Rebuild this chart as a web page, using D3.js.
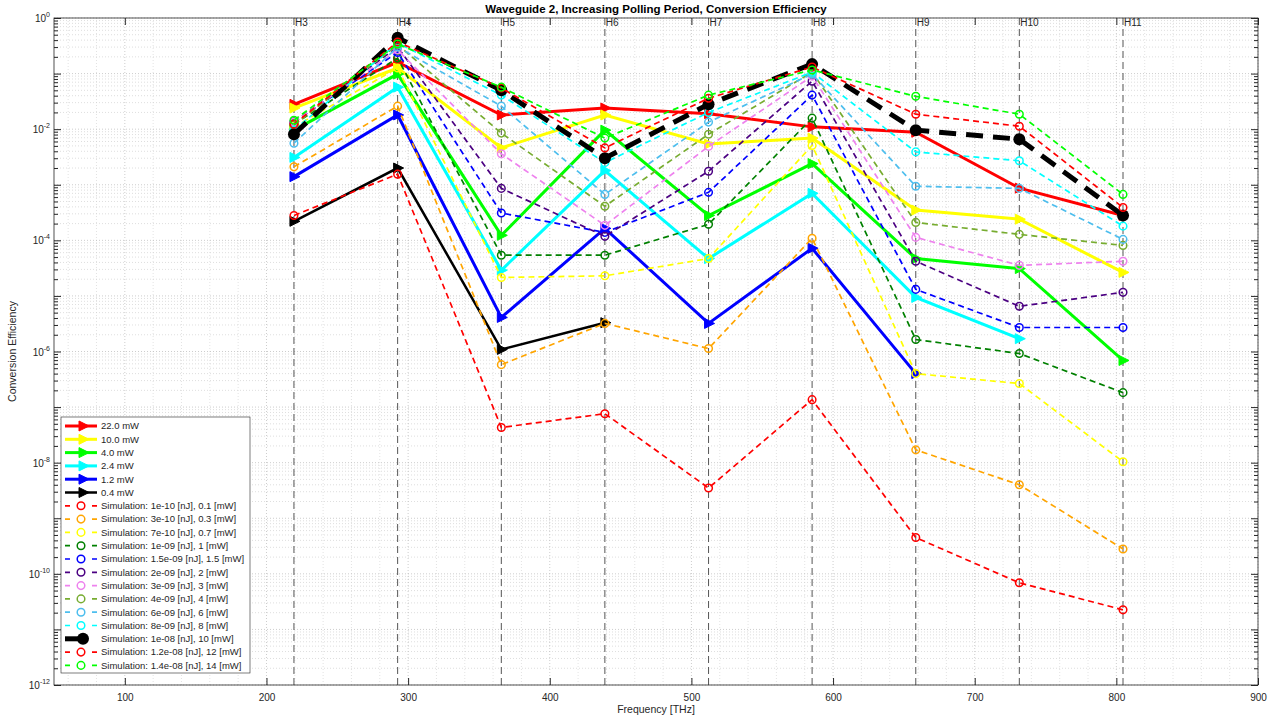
<!DOCTYPE html>
<html>
<head>
<meta charset="utf-8">
<script src="https://cdn.jsdelivr.net/npm/d3@7"></script>
<style>
    body { margin: 0; background: #fff; }
    svg text { font-family: "Liberation Sans", Arial, Helvetica, sans-serif; fill: #262626; }
</style>
</head>
<body>
<div id="chart"></div>
<script>
// harmonic labels and their frequencies [THz]
var harmonics = ['H3', 'H4', 'H5', 'H6', 'H7', 'H8', 'H9', 'H10', 'H11'];
var freqs = [219.4, 292.6, 365.8, 438.9, 512.1, 585.2, 658.4, 731.5, 804.7];

// axis ticks
var xTicks = [100, 200, 300, 400, 500, 600, 700, 800, 900];
var yTickExps = [0, -2, -4, -6, -8, -10, -12];

// measured conversion efficiency (solid lines)
var meas22 = [0.028, 0.16, 0.018, 0.024, 0.019, 0.011, 0.0088, 8.7e-4, 2.8e-4];
var meas10 = [0.024, 0.126, 0.0046, 0.018, 0.0054, 0.0069, 3.5e-4, 2.4e-4, 2.65e-5];
var meas4 = [0.0096, 0.098, 1.23e-4, 0.0096, 2.8e-4, 0.0024, 4.7e-5, 3.1e-5, 6.9e-7];
var meas2_4 = [0.0031, 0.057, 2.9e-5, 0.0018, 4.7e-5, 7.0e-4, 9.4e-6, 1.7e-6, null];
var meas1_2 = [0.0014, 0.018, 4.1e-6, 1.64e-4, 3.2e-6, 7.2e-5, 4.0e-7, null, null];
var meas0_4 = [2.2e-4, 0.002, 1.09e-6, 3.3e-6, null, null, null, null, null];

// simulations (dashed lines)
var sim1e10 = [2.8e-4, 0.00155, 4.3e-8, 7.6e-8, 3.5e-9, 1.36e-7, 4.5e-10, 6.9e-11, 2.25e-11];
var sim3e10 = [0.0021, 0.026, 5.8e-7, 3.2e-6, 1.13e-6, 1.09e-4, 1.7e-8, 4.0e-9, 2.8e-10];
var sim7e10 = [0.011, 0.126, 2.15e-5, 2.3e-5, 4.7e-5, 0.0051, 4.0e-7, 2.65e-7, 1.04e-8];
var sim1e9 = [0.0123, 0.19, 5.4e-5, 5.4e-5, 1.94e-4, 0.0158, 1.64e-6, 9.2e-7, 1.82e-7];
var sim1_5e9 = [0.0134, 0.24, 3.1e-4, 1.39e-4, 7.3e-4, 0.041, 1.31e-5, 2.7e-6, 2.7e-6];
var sim2e9 = [0.0134, 0.30, 8.6e-4, 1.18e-4, 0.00175, 0.073, 4.2e-5, 6.5e-6, 1.16e-5];
var sim3e9 = [0.0134, 0.265, 0.0036, 1.86e-4, 0.0049, 0.09, 1.13e-4, 3.55e-5, 4.2e-5];
var sim4e9 = [0.0118, 0.33, 0.0085, 4.1e-4, 0.0081, 0.106, 2.1e-4, 1.28e-4, 8.1e-5];
var sim6e9 = [0.0056, 0.30, 0.026, 6.7e-4, 0.0134, 0.098, 9.4e-4, 8.6e-4, 1.04e-4];
var sim8e9 = [0.0096, 0.355, 0.041, 0.0025, 0.020, 0.106, 0.0039, 0.0027, 1.8e-4];
var sim1e8 = [0.0081, 0.44, 0.050, 0.0030, 0.028, 0.148, 0.0096, 0.0066, 2.8e-4];
var sim1_2e8 = [0.0123, 0.37, 0.055, 0.0046, 0.036, 0.131, 0.0186, 0.0113, 3.9e-4];
var sim1_4e8 = [0.0145, 0.34, 0.057, 0.0069, 0.041, 0.116, 0.039, 0.0186, 6.7e-4];

// plotted in legend order
var series = [
    {name: '22.0 mW', data: meas22, color: '#ff0000', kind: 'meas', width: 3},
    {name: '10.0 mW', data: meas10, color: '#ffff00', kind: 'meas', width: 3},
    {name: '4.0 mW', data: meas4, color: '#00ff00', kind: 'meas', width: 3},
    {name: '2.4 mW', data: meas2_4, color: '#00ffff', kind: 'meas', width: 3},
    {name: '1.2 mW', data: meas1_2, color: '#0000ff', kind: 'meas', width: 3},
    {name: '0.4 mW', data: meas0_4, color: '#000000', kind: 'meas', width: 2.5},
    {name: 'Simulation: 1e-10 [nJ], 0.1 [mW]', data: sim1e10, color: '#ff0000', kind: 'sim'},
    {name: 'Simulation: 3e-10 [nJ], 0.3 [mW]', data: sim3e10, color: '#ffa500', kind: 'sim'},
    {name: 'Simulation: 7e-10 [nJ], 0.7 [mW]', data: sim7e10, color: '#ffff00', kind: 'sim'},
    {name: 'Simulation: 1e-09 [nJ], 1 [mW]', data: sim1e9, color: '#008000', kind: 'sim'},
    {name: 'Simulation: 1.5e-09 [nJ], 1.5 [mW]', data: sim1_5e9, color: '#0000ff', kind: 'sim'},
    {name: 'Simulation: 2e-09 [nJ], 2 [mW]', data: sim2e9, color: '#4b0082', kind: 'sim'},
    {name: 'Simulation: 3e-09 [nJ], 3 [mW]', data: sim3e9, color: '#ee82ee', kind: 'sim'},
    {name: 'Simulation: 4e-09 [nJ], 4 [mW]', data: sim4e9, color: '#77ac30', kind: 'sim'},
    {name: 'Simulation: 6e-09 [nJ], 6 [mW]', data: sim6e9, color: '#4dbeee', kind: 'sim'},
    {name: 'Simulation: 8e-09 [nJ], 8 [mW]', data: sim8e9, color: '#00ffff', kind: 'sim'},
    {name: 'Simulation: 1e-08 [nJ], 10 [mW]', data: sim1e8, color: '#000000', kind: 'big'},
    {name: 'Simulation: 1.2e-08 [nJ], 12 [mW]', data: sim1_2e8, color: '#ff0000', kind: 'sim'},
    {name: 'Simulation: 1.4e-08 [nJ], 14 [mW]', data: sim1_4e8, color: '#00ff00', kind: 'sim'}
];

var W = 1274, H = 719;
var margin = {top: 18, right: 16, bottom: 34, left: 54};

var svg = d3.select('#chart').append('svg')
    .attr('width', W)
    .attr('height', H);

var x = d3.scaleLinear().domain([50, 900]).range([margin.left, W - margin.right]);
var y = d3.scaleLog().domain([1e-12, 1]).range([H - margin.bottom, margin.top]);

var x0 = x.range()[0], x1 = x.range()[1], y0 = y.range()[1], y1 = y.range()[0];

// grid
var decades = d3.range(-12, 1);
var yMinor = [];
decades.slice(0, -1).forEach(function(k) {
    for (var m = 2; m <= 9; m++) yMinor.push(m * Math.pow(10, k));
});
var yMajor = decades.map(function(k) { return Math.pow(10, k); });
var xMinor = d3.range(60, 900, 20).filter(function(v) { return v % 100 !== 0; });

var grid = svg.append('g');
grid.selectAll('.ymin').data(yMinor).enter().append('line')
    .attr('x1', x0).attr('x2', x1)
    .attr('y1', function(d) { return y(d); }).attr('y2', function(d) { return y(d); })
    .attr('stroke', '#c8c8c8').attr('stroke-width', 0.6).attr('stroke-dasharray', '1,2');
grid.selectAll('.xmin').data(xMinor).enter().append('line')
    .attr('y1', y0).attr('y2', y1)
    .attr('x1', function(d) { return x(d); }).attr('x2', function(d) { return x(d); })
    .attr('stroke', '#d0d0d0').attr('stroke-width', 0.6).attr('stroke-dasharray', '1,2');
grid.selectAll('.ymaj').data(yMajor).enter().append('line')
    .attr('x1', x0).attr('x2', x1)
    .attr('y1', function(d) { return y(d); }).attr('y2', function(d) { return y(d); })
    .attr('stroke', '#b8b8b8').attr('stroke-width', 0.7).attr('stroke-dasharray', '1,2');
grid.selectAll('.xmaj').data(xTicks).enter().append('line')
    .attr('y1', y0).attr('y2', y1)
    .attr('x1', function(d) { return x(d); }).attr('x2', function(d) { return x(d); })
    .attr('stroke', '#b8b8b8').attr('stroke-width', 0.7).attr('stroke-dasharray', '1,2');

// harmonic markers
var hl = svg.append('g');
hl.selectAll('line').data(freqs).enter().append('line')
    .attr('x1', function(d) { return x(d); }).attr('x2', function(d) { return x(d); })
    .attr('y1', y0).attr('y2', y1)
    .attr('stroke', '#555').attr('stroke-width', 1).attr('stroke-dasharray', '7,4');
hl.selectAll('text').data(harmonics).enter().append('text')
    .attr('x', function(d, i) { return x(freqs[i]) + 1; })
    .attr('y', y0 + 8)
    .attr('font-size', 10)
    .text(function(d) { return d; });

// axes (ticks point inwards, like matlab)
function noDomain(g) { g.select('.domain').remove(); g.selectAll('line').attr('stroke', '#262626'); }

svg.append('g').attr('transform', 'translate(0,' + y1 + ')')
    .call(d3.axisBottom(x).tickValues(xTicks).tickSize(-7).tickPadding(9).tickFormat(d3.format('d')))
    .call(noDomain)
    .selectAll('text').attr('font-size', 10).attr('fill', '#262626');
svg.append('g').attr('transform', 'translate(0,' + y0 + ')')
    .call(d3.axisTop(x).tickValues(xTicks).tickSize(-7).tickFormat(''))
    .call(noDomain);

svg.append('g').attr('transform', 'translate(' + x0 + ',0)')
    .call(d3.axisLeft(y).tickValues(yMajor).tickSize(-7).tickFormat(''))
    .call(noDomain);
svg.append('g').attr('transform', 'translate(' + x0 + ',0)')
    .call(d3.axisLeft(y).tickValues(yMinor).tickSize(-4).tickFormat(''))
    .call(noDomain);
svg.append('g').attr('transform', 'translate(' + x1 + ',0)')
    .call(d3.axisRight(y).tickValues(yMajor).tickSize(-7).tickFormat(''))
    .call(noDomain);
svg.append('g').attr('transform', 'translate(' + x1 + ',0)')
    .call(d3.axisRight(y).tickValues(yMinor).tickSize(-4).tickFormat(''))
    .call(noDomain);

// y tick labels 10^k
var yl = svg.append('g').selectAll('text').data(yTickExps).enter().append('text')
    .attr('x', x0 - 4)
    .attr('y', function(d) { return y(Math.pow(10, d)) + 4; })
    .attr('text-anchor', 'end')
    .attr('font-size', 10);
yl.append('tspan').text('10');
yl.append('tspan').attr('dy', -5).attr('font-size', 7).text(function(d) { return d; });

svg.append('rect')
    .attr('x', x0).attr('y', y0)
    .attr('width', x1 - x0).attr('height', y1 - y0)
    .attr('fill', 'none').attr('stroke', '#262626').attr('stroke-width', 0.8);

// data
var line = d3.line()
    .defined(function(d) { return d != null; })
    .x(function(d, i) { return x(freqs[i]); })
    .y(function(d) { return y(d); });

var triPath = 'M-4,-5L6,0L-4,5Z';

function pts(s) {
    return s.data.map(function(v, i) { return {v: v, f: freqs[i]}; })
        .filter(function(d) { return d.v != null; });
}

var plot = svg.append('g');
series.forEach(function(s) {
    var g = plot.append('g');
    var path = g.append('path').datum(s.data)
        .attr('d', line)
        .attr('fill', 'none')
        .attr('stroke', s.color)
        .attr('stroke-linejoin', 'miter');
    if (s.kind === 'meas') {
        path.attr('stroke-width', s.width);
        g.selectAll('path.m').data(pts(s)).enter().append('path')
            .attr('class', 'm')
            .attr('d', triPath)
            .attr('transform', function(d) { return 'translate(' + x(d.f) + ',' + y(d.v) + ')'; })
            .attr('fill', s.color).attr('stroke', s.color).attr('stroke-width', 1);
    } else if (s.kind === 'sim') {
        path.attr('stroke-width', 1.7).attr('stroke-dasharray', '6,4');
        g.selectAll('circle').data(pts(s)).enter().append('circle')
            .attr('cx', function(d) { return x(d.f); })
            .attr('cy', function(d) { return y(d.v); })
            .attr('r', 3.8)
            .attr('fill', 'none').attr('stroke', s.color).attr('stroke-width', 1.5);
    } else {
        path.attr('stroke-width', 5).attr('stroke-dasharray', '17,10');
        g.selectAll('circle').data(pts(s)).enter().append('circle')
            .attr('cx', function(d) { return x(d.f); })
            .attr('cy', function(d) { return y(d.v); })
            .attr('r', 6)
            .attr('fill', s.color);
    }
});

// legend
var lg = svg.append('g');
lg.append('rect')
    .attr('x', 61).attr('y', 417).attr('width', 189).attr('height', 256)
    .attr('fill', '#fff').attr('stroke', '#262626').attr('stroke-width', 0.6);
var rowH = 13.3;
series.forEach(function(s, i) {
    var cy = 426 + i * rowH;
    var row = lg.append('g');
    if (s.kind === 'meas') {
        row.append('line').attr('x1', 65).attr('x2', 97).attr('y1', cy).attr('y2', cy)
            .attr('stroke', s.color).attr('stroke-width', s.width);
        row.append('path').attr('d', triPath)
            .attr('transform', 'translate(83,' + cy + ')')
            .attr('fill', s.color).attr('stroke', s.color);
    } else if (s.kind === 'sim') {
        row.append('line').attr('x1', 65).attr('x2', 97).attr('y1', cy).attr('y2', cy)
            .attr('stroke', s.color).attr('stroke-width', 1.7).attr('stroke-dasharray', '5,22,5');
        row.append('circle').attr('cx', 81).attr('cy', cy).attr('r', 3.8)
            .attr('fill', 'none').attr('stroke', s.color).attr('stroke-width', 1.5);
    } else {
        row.append('line').attr('x1', 65).attr('x2', 83).attr('y1', cy).attr('y2', cy)
            .attr('stroke', s.color).attr('stroke-width', 5);
        row.append('circle').attr('cx', 83).attr('cy', cy).attr('r', 6).attr('fill', s.color);
    }
    row.append('text').attr('x', 101).attr('y', cy).attr('dy', '0.35em')
        .attr('font-size', 9.5).text(s.name);
});

// titles
svg.append('text')
    .attr('x', (x0 + x1) / 2).attr('y', 13)
    .attr('text-anchor', 'middle').attr('font-size', 11.5).attr('font-weight', 'bold')
    .style('fill', '#000')
    .text('Waveguide 2, Increasing Polling Period, Conversion Efficiency');
svg.append('text')
    .attr('x', (x0 + x1) / 2).attr('y', 713)
    .attr('text-anchor', 'middle').attr('font-size', 10.5)
    .text('Frequency [THz]');
svg.append('text')
    .attr('transform', 'translate(16,' + ((y0 + y1) / 2) + ') rotate(-90)')
    .attr('text-anchor', 'middle').attr('font-size', 10.5)
    .text('Conversion Efficiency');
</script>
</body>
</html>
